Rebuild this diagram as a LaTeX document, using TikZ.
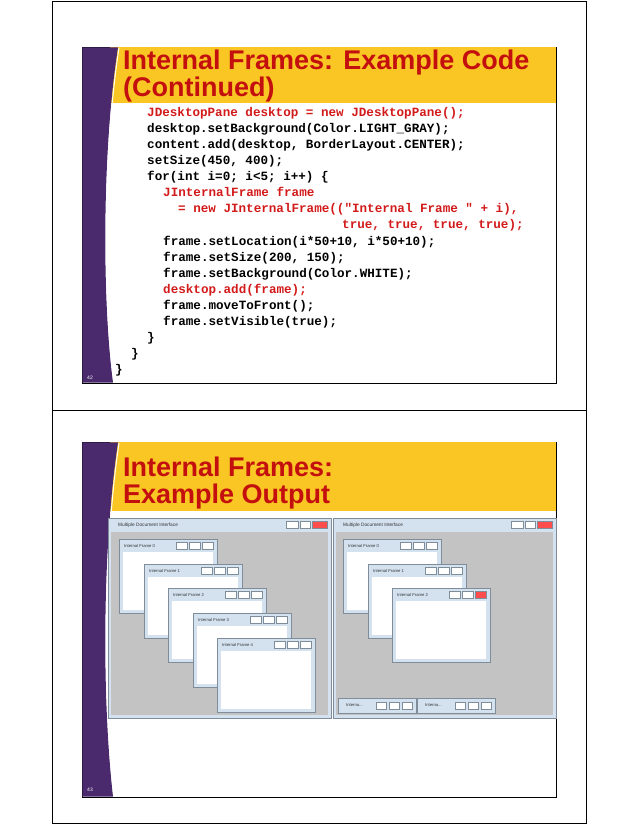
\documentclass[tikz,border=0pt]{standalone}
\usepackage{fontspec}
\setmainfont{Liberation Sans}
\newfontfamily\codefont{Liberation Mono}
\definecolor{slpurple}{HTML}{4A2A6C}
\definecolor{slyellow}{HTML}{F9C623}
\definecolor{slred}{HTML}{C40F0F}
\definecolor{coderd}{HTML}{D21A1A}
\definecolor{deskgray}{HTML}{C3C3C3}
\definecolor{barblue}{HTML}{D4E2F0}
\definecolor{frameedge}{HTML}{7F8C9A}
\tikzset{
  title/.style={anchor=base west,text=slred,font=\fontsize{27}{30}\selectfont\bfseries,inner sep=0pt},
  code/.style={anchor=base west,inner sep=0pt,font=\codefont\bfseries\fontsize{12.6}{14}\selectfont},
  red code/.style={code,text=coderd},
  tiny/.style={anchor=west,inner sep=0pt,font=\fontsize{4.2}{5}\selectfont,text=black!80},
}
% internal frame: x,y (top-left), label, close-button colour
\newcommand\ifrm[4]{%
  \fill[barblue] (#1,#2) rectangle ++(98,74);
  \fill[white] (#1+4,#2+13) rectangle ++(90,58);
  \draw[frameedge] (#1,#2) rectangle ++(98,74);
  \node[tiny] at (#1+5,#2+6.5) {#3};
  \draw[frameedge,fill=white] (#1+57,#2+3) rectangle ++(11,7);
  \draw[frameedge,fill=white] (#1+70,#2+3) rectangle ++(11,7);
  \draw[frameedge,fill=#4] (#1+83,#2+3) rectangle ++(11,7);
}
\newcommand\mainwin[2]{%
  \fill[barblue] (#1,#2) rectangle ++(223,200);
  \fill[deskgray] (#1+3,#2+14) rectangle ++(217,183);
  \draw[frameedge] (#1,#2) rectangle ++(223,200);
  \node[tiny,font=\fontsize{4.8}{5}\selectfont] at (#1+10,#2+7) {Multiple Document Interface};
  \draw[frameedge,fill=white] (#1+178,#2+3) rectangle ++(12,7);
  \draw[frameedge,fill=white] (#1+192,#2+3) rectangle ++(10,7);
  \draw[frameedge,fill=red!70] (#1+204,#2+3) rectangle ++(15,7);
}
\begin{document}
\begin{tikzpicture}[x=1pt,y=-1pt]
\useasboundingbox (0,0) rectangle (638,826);
% page cells
\draw[line width=0.8pt] (52,1) rectangle (586,823);
\draw[line width=0.8pt] (52,410) -- (586,410);

% ---- slide 42 ----
\draw[line width=0.8pt] (82,47) rectangle (556,383);
\fill[slyellow] (110,47.4) rectangle (555.6,103);
\fill[slpurple] (82.4,47.4) -- (118,47.4) .. controls (102,150) and (102,300) .. (113,382.6) -- (82.4,382.6) -- cycle;
\draw[white,line width=1pt] (119,48) .. controls (103,150) and (103,300) .. (114,382);
\node[title] (t1) at (123,70) {Internal Frames: Example Code};
\node[title] (t2) at (123,97) {(Continued)};
\node[text=white,font=\fontsize{5}{6}\selectfont] (n42) at (90,378) {42};
\foreach \i/\x/\s/\t in {
 0/147/red code/{JDesktopPane desktop = new JDesktopPane();},
 1/147/code/{desktop.setBackground(Color.LIGHT\_GRAY);},
 2/147/code/{content.add(desktop, BorderLayout.CENTER);},
 3/147/code/{setSize(450, 400);},
 4/147/code/{for(int i=0; i<5; i++) \{},
 5/163/red code/{JInternalFrame frame},
 6/178/red code/{= new JInternalFrame(("Internal Frame " + i),},
 7/342/red code/{true, true, true, true);},
 8/163/code/{frame.setLocation(i*50+10, i*50+10);},
 9/163/code/{frame.setSize(200, 150);},
 10/163/code/{frame.setBackground(Color.WHITE);},
 11/163/red code/{desktop.add(frame);},
 12/163/code/{frame.moveToFront();},
 13/163/code/{frame.setVisible(true);},
 14/147/code/{\}},
 15/131/code/{\}},
 16/115/code/{\}}}
 \node[\s] (c\i) at (\x,{117+16*\i}) {\t};

% ---- slide 43 ----
\draw[line width=0.8pt] (82,442) rectangle (556,797);
\fill[slyellow] (110,442.4) rectangle (555.6,511);
\fill[slpurple] (82.4,442.4) -- (118,442.4) .. controls (102,550) and (102,700) .. (113,796.6) -- (82.4,796.6) -- cycle;
\draw[white,line width=1pt] (119,443) .. controls (103,550) and (103,700) .. (114,796);
\node[title] (t3) at (123,476) {Internal Frames:};
\node[title] (t4) at (123,503) {Example Output};
\node[text=white,font=\fontsize{5}{6}\selectfont] (n43) at (90,790) {43};

% screenshots
\mainwin{108}{518}
\ifrm{119}{539}{Internal Frame 0}{white}
\ifrm{144}{564}{Internal Frame 1}{white}
\ifrm{168}{588}{Internal Frame 2}{white}
\ifrm{193}{613}{Internal Frame 3}{white}
\ifrm{217}{638}{Internal Frame 4}{white}

\mainwin{333}{518}
\ifrm{343}{539}{Internal Frame 0}{white}
\ifrm{368}{564}{Internal Frame 1}{white}
\ifrm{392}{588}{Internal Frame 2}{red!70}
% iconified frames
\foreach \x in {338,417}{
  \fill[barblue] (\x,698) rectangle ++(78,15);
  \draw[frameedge] (\x,698) rectangle ++(78,15);
  \node[tiny] at (\x+8,705.5) {Interna...};
  \draw[frameedge,fill=white] (\x+38,702) rectangle ++(10,7);
  \draw[frameedge,fill=white] (\x+51,702) rectangle ++(10,7);
  \draw[frameedge,fill=white] (\x+64,702) rectangle ++(10,7);
}
\end{tikzpicture}
\end{document}
